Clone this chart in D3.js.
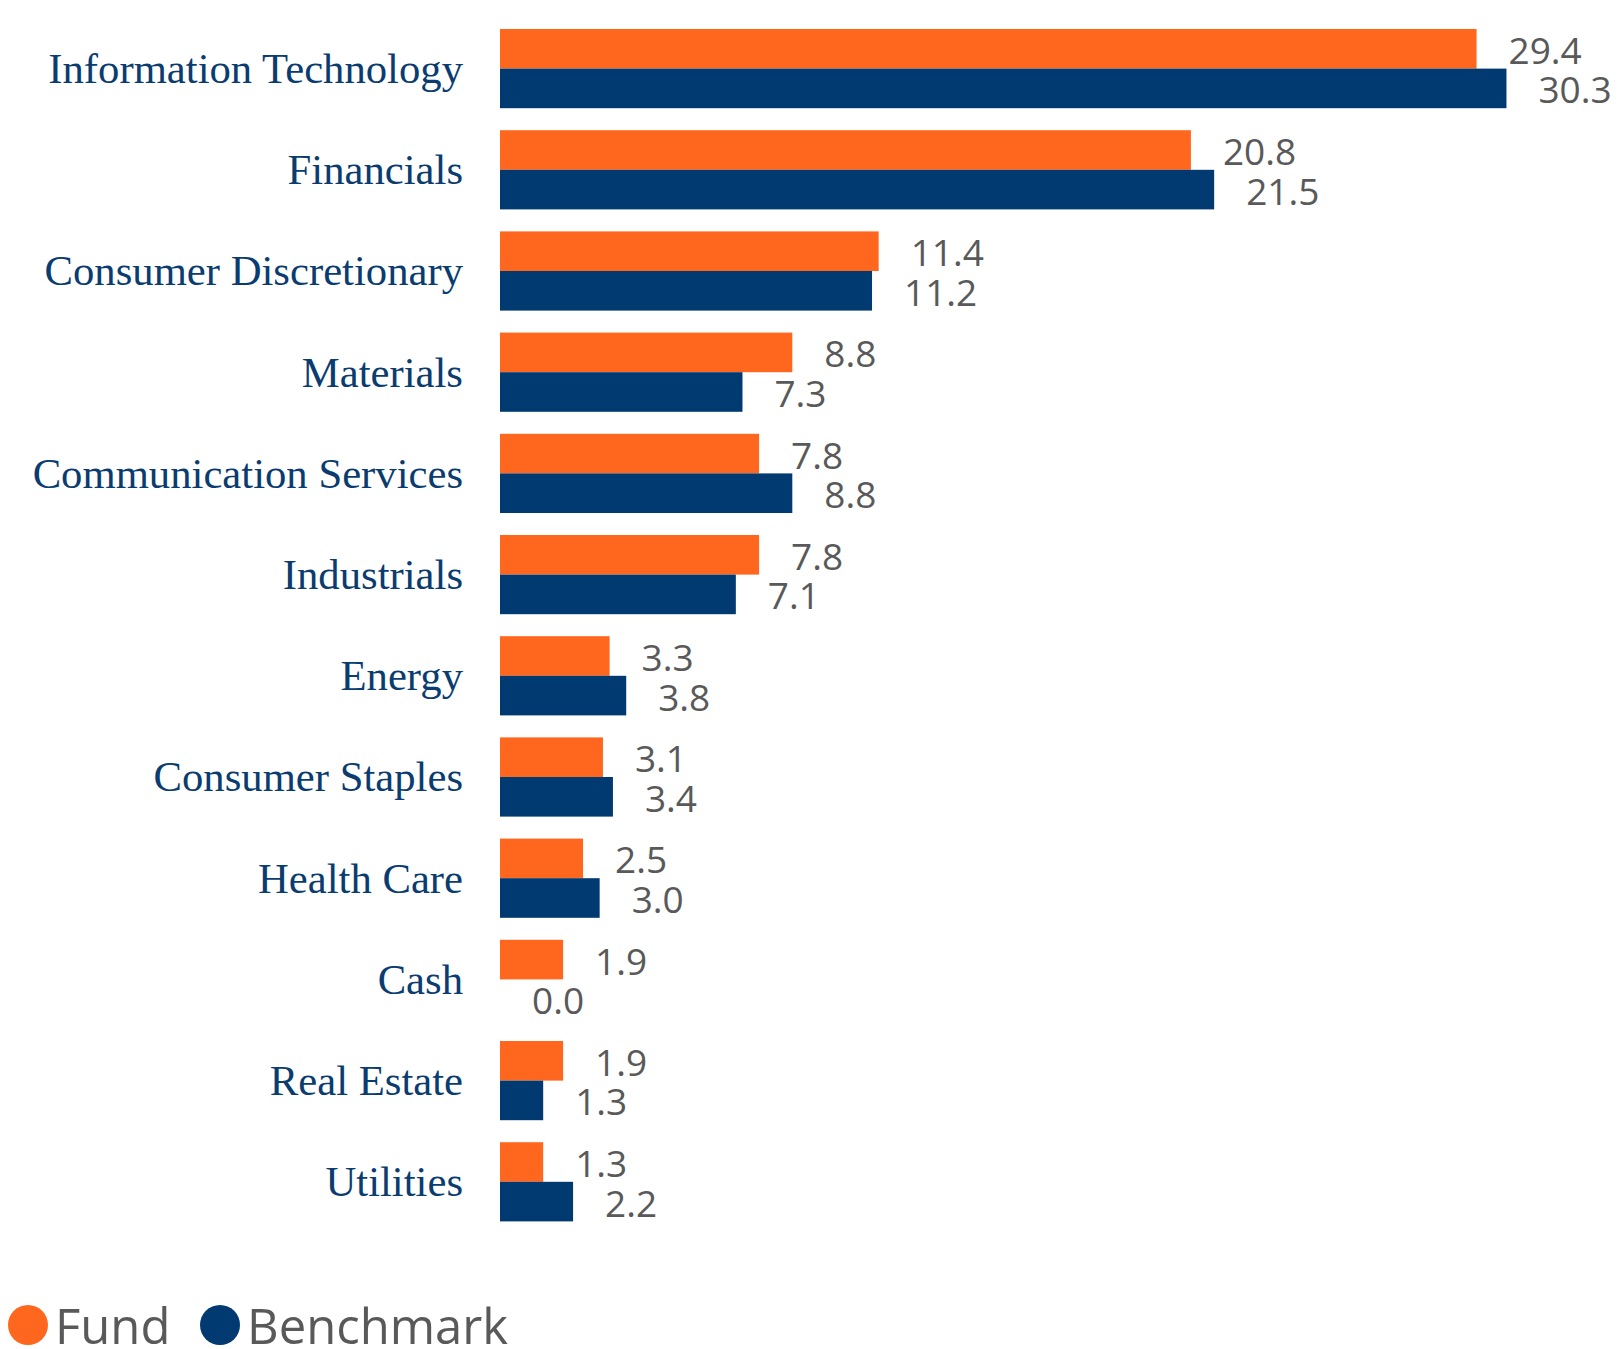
<!DOCTYPE html>
<html>
<head>
<meta charset="utf-8">
<script src="https://cdn.jsdelivr.net/npm/d3@7"></script>
<style>
  html, body { margin: 0; padding: 0; background: #fff; }
  svg { display: block; }
</style>
</head>
<body>
<div id="chart"></div>
<script>
const categories = [
  'Information Technology', 'Financials', 'Consumer Discretionary', 'Materials',
  'Communication Services', 'Industrials', 'Energy', 'Consumer Staples',
  'Health Care', 'Cash', 'Real Estate', 'Utilities'
];
const fundValues = [29.4, 20.8, 11.4, 8.8, 7.8, 7.8, 3.3, 3.1, 2.5, 1.9, 1.9, 1.3];
const benchmarkValues = [30.3, 21.5, 11.2, 7.3, 8.8, 7.1, 3.8, 3.4, 3.0, 0.0, 1.3, 2.2];
const seriesNames = ['Fund', 'Benchmark'];

const width = 1618, height = 1349;
const colors = { Fund: '#FF671F', Benchmark: '#003A70' };

const svg = d3.select('#chart').append('svg')
  .attr('width', width).attr('height', height);

const x = d3.scaleLinear().domain([0, 30]).range([500, 1496.5]);

const pad = 22 / 101.2;
const y = d3.scaleBand().domain(categories)
  .range([18, 18 + categories.length * 101.2])
  .paddingInner(pad).paddingOuter(pad / 2);

const ySub = d3.scaleBand().domain(seriesNames).range([0, y.bandwidth()]);

const rows = categories.map((c, i) => ({
  cat: c,
  vals: [
    { s: 'Fund', v: fundValues[i] },
    { s: 'Benchmark', v: benchmarkValues[i] }
  ]
}));

const groups = svg.selectAll('g.row').data(rows).join('g')
  .attr('class', 'row')
  .attr('transform', d => `translate(0,${y(d.cat)})`);

groups.selectAll('rect').data(d => d.vals).join('rect')
  .attr('x', x(0))
  .attr('y', d => ySub(d.s))
  .attr('width', d => x(d.v) - x(0))
  .attr('height', ySub.bandwidth())
  .attr('fill', d => colors[d.s]);

groups.selectAll('text.val').data(d => d.vals).join('text')
  .attr('class', 'val')
  .attr('x', d => x(d.v) + 32)
  .attr('y', d => ySub(d.s) + ySub.bandwidth() / 2 + 15)
  .attr('font-family', '"Open Sans", sans-serif')
  .attr('font-size', 37)
  .attr('fill', '#595959')
  .text(d => d3.format('.1f')(d.v));

groups.append('text')
  .attr('class', 'cat')
  .attr('x', 463)
  .attr('y', y.bandwidth() / 2 + 14.5)
  .attr('text-anchor', 'end')
  .attr('font-family', '"Liberation Serif", "Times New Roman", serif')
  .attr('font-size', 42.7)
  .attr('fill', '#0A3C70')
  .text(d => d.cat);

// legend
const legendX = [28, 220];
const legend = svg.selectAll('g.legend').data(seriesNames).join('g')
  .attr('class', 'legend')
  .attr('transform', (d, i) => `translate(${legendX[i]},1325)`);
legend.append('circle').attr('r', 20).attr('fill', d => colors[d]);
legend.append('text')
  .attr('x', 27).attr('y', 19)
  .attr('font-family', '"Open Sans", sans-serif')
  .attr('font-size', 49)
  .attr('fill', '#595959')
  .text(d => d);
</script>
</body>
</html>
